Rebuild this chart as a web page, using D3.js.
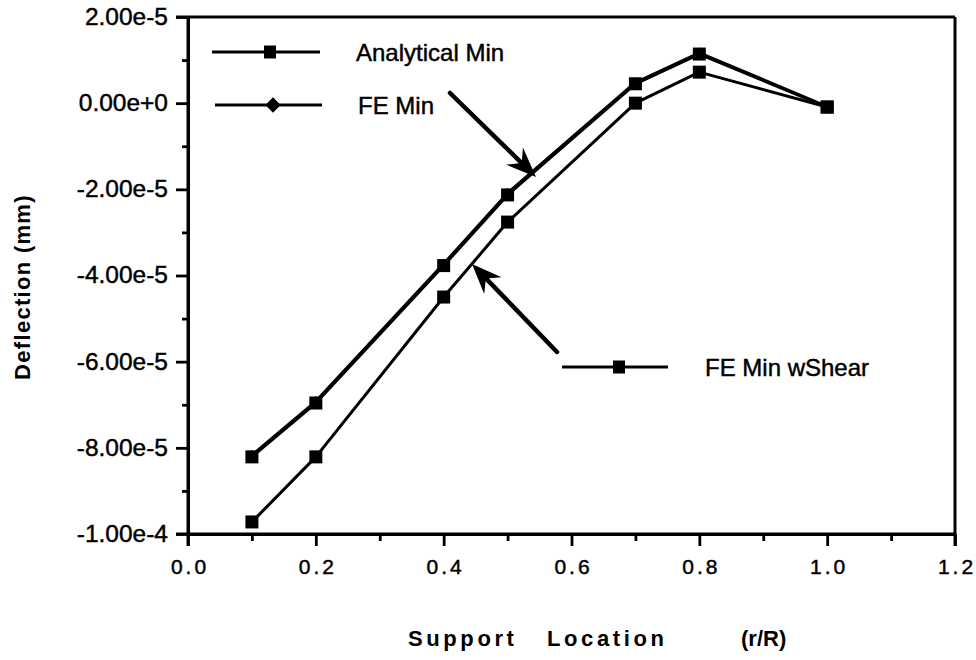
<!DOCTYPE html>
<html>
<head>
<meta charset="utf-8">
<script src="https://cdn.jsdelivr.net/npm/d3@7"></script>
<style>
  html, body { margin: 0; padding: 0; background: #fff; }
  svg { display: block; }
</style>
</head>
<body>
<svg id="chart" width="976" height="660"></svg>
<script>
// ---- data ----
const support = [0.1, 0.2, 0.4, 0.5, 0.7, 0.8, 1.0];
const analyticalMin = [-8.21e-5, -6.96e-5, -3.77e-5, -2.13e-5, 0.45e-5, 1.14e-5, -0.09e-5];
const feMin = [-8.17e-5, -6.92e-5, -3.73e-5, -2.09e-5, 0.48e-5, 1.17e-5, -0.08e-5];
const feMinShear = [-9.72e-5, -8.21e-5, -4.50e-5, -2.76e-5, 0.0e-5, 0.72e-5, -0.09e-5];

const xTickValues = [0, 0.2, 0.4, 0.6, 0.8, 1.0, 1.2];
const xTickLabels = ["0.0", "0.2", "0.4", "0.6", "0.8", "1.0", "1.2"];
const xMinorTicks = [0.1, 0.3, 0.5, 0.7, 0.9, 1.1];
const yTickValues = [2e-5, 0, -2e-5, -4e-5, -6e-5, -8e-5, -1e-4];
const yTickLabels = ["2.00e-5", "0.00e+0", "-2.00e-5", "-4.00e-5", "-6.00e-5", "-8.00e-5", "-1.00e-4"];
const yMinorTicks = [1e-5, -1e-5, -3e-5, -5e-5, -7e-5, -9e-5];

const seriesNames = ["Analytical Min", "FE Min", "FE Min wShear"];

// ---- layout ----
const svg = d3.select("#chart");
const L = 188, R = 955, T = 17, B = 534;
const x = d3.scaleLinear().domain([0, 1.2]).range([L, R]);
const y = d3.scaleLinear().domain([-1e-4, 2e-5]).range([B, T]);
const FONT = "'Liberation Sans', Arial, Helvetica, sans-serif";
const AX_W = 3;

// frame (top and right)
svg.append("line").attr("x1", L - 12).attr("x2", R).attr("y1", T).attr("y2", T)
  .attr("stroke", "#000").attr("stroke-width", AX_W);
svg.append("line").attr("x1", R).attr("x2", R).attr("y1", T).attr("y2", B + 12)
  .attr("stroke", "#000").attr("stroke-width", AX_W);

// y axis
const yAxis = svg.append("g").attr("transform", `translate(${L},0)`)
  .call(d3.axisLeft(y).tickValues(yTickValues).tickSize(12).tickSizeOuter(0)
    .tickFormat((d, i) => yTickLabels[i]).tickPadding(8));
const yMinor = svg.append("g").attr("transform", `translate(${L},0)`)
  .call(d3.axisLeft(y).tickValues(yMinorTicks).tickSize(6).tickSizeOuter(0).tickFormat(""));

// x axis
const xAxis = svg.append("g").attr("transform", `translate(0,${B})`)
  .call(d3.axisBottom(x).tickValues(xTickValues).tickSize(12).tickSizeOuter(0)
    .tickFormat((d, i) => xTickLabels[i]).tickPadding(13));
const xMinor = svg.append("g").attr("transform", `translate(0,${B})`)
  .call(d3.axisBottom(x).tickValues(xMinorTicks).tickSize(7).tickSizeOuter(0).tickFormat(""));

[yAxis, yMinor, xAxis, xMinor].forEach(g => {
  g.selectAll("path.domain").attr("stroke", "#000").attr("stroke-width", AX_W);
  g.selectAll(".tick line").attr("stroke", "#000").attr("stroke-width", 2.8);
});
yAxis.select("path.domain").attr("d", `M0,${T}V${B + 12}`);
xAxis.select("path.domain").attr("d", `M${L - 12},0H${R}`);

yAxis.selectAll(".tick text")
  .attr("font-family", FONT).attr("font-size", 24.5).attr("fill", "#000")
  .attr("stroke", "#000").attr("stroke-width", 0.45)
  .attr("dy", "0.3em").attr("x", -20);
xAxis.selectAll(".tick text")
  .attr("font-family", FONT).attr("font-size", 21).attr("fill", "#000")
  .attr("stroke", "#000").attr("stroke-width", 0.45)
  .style("letter-spacing", "3px").attr("dx", 1.5).attr("dy", "0.71em");

// axis titles
svg.append("text").attr("transform", `translate(30,287) rotate(-90)`)
  .attr("text-anchor", "middle").attr("font-family", FONT).attr("font-weight", "bold")
  .attr("font-size", 22).style("letter-spacing", "1.3px").text("Deflection (mm)");

const xt = svg.append("text").attr("y", 646).attr("font-family", FONT)
  .attr("font-weight", "bold").attr("font-size", 22);
xt.append("tspan").attr("x", 408).style("letter-spacing", "3.6px").text("Support");
xt.append("tspan").attr("x", 547).style("letter-spacing", "3.6px").text("Location");
xt.append("tspan").attr("x", 741).style("letter-spacing", "0px").text("(r/R)");

// ---- series ----
const line = d3.line().x(d => x(d[0])).y(d => y(d[1]));
function pts(vals) { return support.map((s, i) => [s, vals[i]]); }
const MS = 13;

function drawSeries(vals, width, marker) {
  const p = pts(vals);
  svg.append("path").attr("d", line(p)).attr("fill", "none")
    .attr("stroke", "#000").attr("stroke-width", width).attr("stroke-linejoin", "round");
  const g = svg.append("g");
  p.forEach(d => {
    if (marker === "square") {
      g.append("rect").attr("x", x(d[0]) - MS / 2).attr("y", y(d[1]) - MS / 2)
        .attr("width", MS).attr("height", MS).attr("fill", "#000");
    } else {
      g.append("path").attr("d", d3.symbol(d3.symbolDiamond2, 70)())
        .attr("transform", `translate(${x(d[0])},${y(d[1])})`).attr("fill", "#000");
    }
  });
}
drawSeries(feMinShear, 3, "square");
drawSeries(feMin, 3, "diamond");
drawSeries(analyticalMin, 3, "square");

// ---- legend ----
function legendItem(x1, x2, ly, mx, marker, tx, label) {
  svg.append("line").attr("x1", x1).attr("x2", x2).attr("y1", ly).attr("y2", ly)
    .attr("stroke", "#000").attr("stroke-width", 3);
  if (marker === "square") {
    svg.append("rect").attr("x", mx - 6).attr("y", ly - 6.5).attr("width", 12).attr("height", 13).attr("fill", "#000");
  } else {
    svg.append("path").attr("d", d3.symbol(d3.symbolDiamond2, 150)())
      .attr("transform", `translate(${mx},${ly})`).attr("fill", "#000");
  }
  svg.append("text").attr("x", tx).attr("y", ly).attr("dy", "0.36em")
    .attr("font-family", FONT).attr("font-size", 24)
    .attr("stroke", "#000").attr("stroke-width", 0.45).text(label);
}
legendItem(212, 320, 52, 270, "square", 356, seriesNames[0]);
legendItem(215, 322, 105, 273, "diamond", 358, seriesNames[1]);
legendItem(562, 668, 367, 619, "square", 705, seriesNames[2]);

// ---- arrows ----
function arrow(tx0, ty0, hx, hy) {
  const dx = hx - tx0, dy = hy - ty0, len = Math.hypot(dx, dy);
  const ux = dx / len, uy = dy / len, nx = -uy, ny = ux;
  const hl = 30, hw = 12, notch = 20;
  svg.append("line").attr("x1", tx0).attr("y1", ty0)
    .attr("x2", hx - ux * notch).attr("y2", hy - uy * notch)
    .attr("stroke", "#000").attr("stroke-width", 4.5).attr("stroke-linecap", "round");
  const b1 = [hx - ux * hl + nx * hw, hy - uy * hl + ny * hw];
  const b2 = [hx - ux * hl - nx * hw, hy - uy * hl - ny * hw];
  const n = [hx - ux * notch, hy - uy * notch];
  svg.append("path").attr("d", `M${hx},${hy}L${b1}L${n}L${b2}Z`).attr("fill", "#000");
}
arrow(450, 93, 536, 177);
arrow(557, 352, 472, 264);
</script>
</body>
</html>
